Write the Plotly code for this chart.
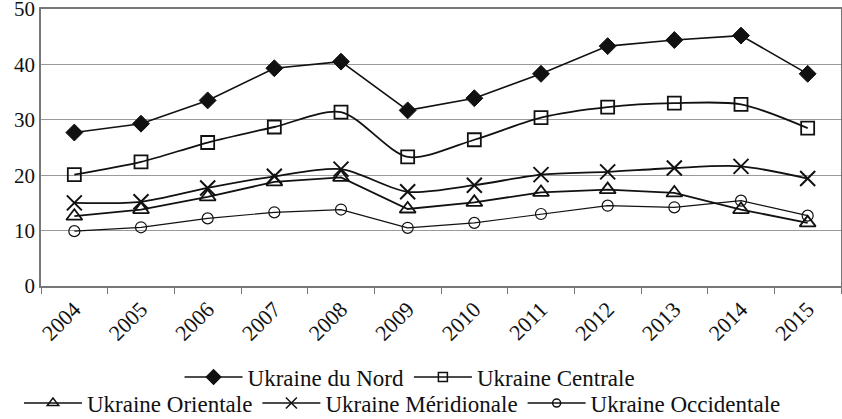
import plotly.graph_objects as go

years = ["2004", "2005", "2006", "2007", "2008", "2009", "2010", "2011", "2012", "2013", "2014", "2015"]
nord = [27.7, 29.3, 33.5, 39.3, 40.5, 31.7, 33.9, 38.3, 43.3, 44.4, 45.2, 38.3]
centrale = [20.1, 22.4, 25.9, 28.7, 31.4, 23.3, 26.4, 30.4, 32.3, 33.0, 32.8, 28.5]
orientale = [12.6, 13.8, 16.1, 18.8, 19.6, 13.9, 15.1, 16.9, 17.4, 16.8, 13.8, 11.4]
meridionale = [15.0, 15.2, 17.7, 19.8, 21.1, 17.0, 18.2, 20.1, 20.6, 21.3, 21.6, 19.4]
occidentale = [9.9, 10.6, 12.2, 13.3, 13.8, 10.5, 11.4, 13.0, 14.5, 14.2, 15.4, 12.7]
y_ticks = [0, 10, 20, 30, 40, 50]

FONT = "Liberation Serif"
INK = "#111111"

fig = go.Figure()

def add(name, vals, symbol, size, shape, width, legend, lw, leg_size):
    # data trace
    fig.add_trace(go.Scatter(
        x=years, y=vals, name=name, mode="lines+markers",
        line=dict(color=INK, width=width, shape=shape, smoothing=0.8),
        marker=dict(symbol=symbol, size=size, color=INK,
                    line=dict(color=INK, width=lw)),
        showlegend=False,
    ))
    # legend entry (smaller symbol, like the reference key)
    fig.add_trace(go.Scatter(
        x=[None], y=[None], name=name, mode="lines+markers",
        line=dict(color=INK, width=1.6),
        marker=dict(symbol=symbol, size=leg_size, color=INK,
                    line=dict(color=INK, width=1.5)),
        legend=legend, showlegend=True,
    ))

add("Ukraine du Nord", nord, "diamond", 13, "linear", 1.6, "legend", 1, 11)
add("Ukraine Centrale", centrale, "square-open", 13, "spline", 1.8, "legend", 1.8, 9)
add("Ukraine Orientale", orientale, "triangle-up-open", 14, "linear", 1.8, "legend2", 1.8, 10)
add("Ukraine Méridionale", meridionale, "x-thin-open", 15, "spline", 1.8, "legend2", 2, 11)
add("Ukraine Occidentale", occidentale, "circle-open", 11, "linear", 1.2, "legend2", 1.2, 8)

legend_common = dict(orientation="h", xref="container", yref="container",
                     xanchor="center", yanchor="middle",
                     font=dict(family=FONT, size=23, color=INK),
                     bgcolor="rgba(0,0,0,0)", itemwidth=58,
                     tracegroupgap=0)

fig.update_layout(
    width=842, height=419,
    margin=dict(l=41, r=1, t=9, b=133, autoexpand=False),
    paper_bgcolor="white", plot_bgcolor="white",
    font=dict(family=FONT, size=22, color=INK),
    xaxis=dict(
        type="category", categoryorder="array", categoryarray=years,
        range=[-0.5, len(years) - 0.5], tickangle=-45, tickson="boundaries",
        ticks="outside", ticklen=6, tickcolor="#777777", automargin=False,
        showline=True, linecolor="#777777", linewidth=1.5, mirror=True,
        showgrid=False, tickfont=dict(family=FONT, size=22, color=INK),
        ticklabeloverflow="allow",
    ),
    yaxis=dict(
        range=[0, 50], tickvals=y_ticks, showgrid=True, gridcolor="#9a9a9a", gridwidth=1,
        showline=True, linecolor="#777777", linewidth=1.5, mirror=True, automargin=False,
        ticks="", tickfont=dict(family=FONT, size=21, color=INK), zeroline=False,
        ticklabeloverflow="allow",
    ),
    legend=dict(x=0.487, y=0.10, **legend_common),
    legend2=dict(x=0.478, y=0.038, **legend_common),
    showlegend=True,
)

fig.write_html("out.html", config={"displayModeBar": False},
               post_script="document.body.style.margin='0';document.body.style.padding='0';")
